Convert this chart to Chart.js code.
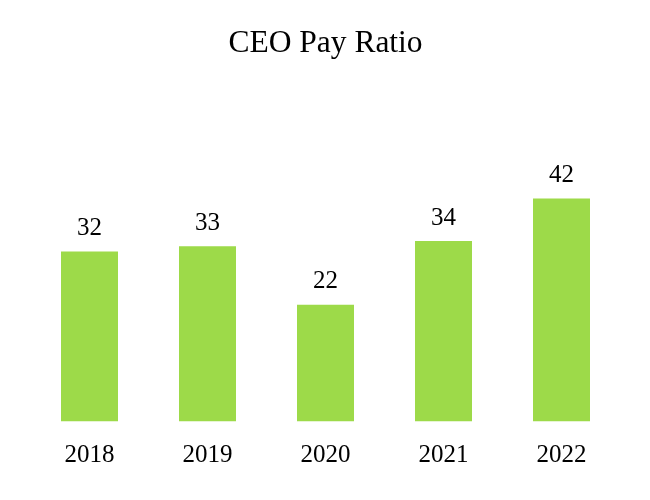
<!DOCTYPE html>
<html>
<head>
<meta charset="utf-8">
<script src="https://cdn.jsdelivr.net/npm/chart.js@4"></script>
<style>
html,body{margin:0;padding:0;background:#fff;}
#wrap{width:650px;height:500px;}
</style>
</head>
<body>
<div id="wrap"><canvas id="c"></canvas></div>
<script>
const categories = ['2018', '2019', '2020', '2021', '2022'];
const payRatio = [32, 33, 22, 34, 42];
const chartTitle = 'CEO Pay Ratio';

const valueLabels = {
  id: 'valueLabels',
  afterDatasetsDraw(chart) {
    const ctx = chart.ctx;
    const meta = chart.getDatasetMeta(0);
    ctx.save();
    ctx.font = '25px "Liberation Serif", "Times New Roman", serif';
    ctx.fillStyle = '#000';
    ctx.textAlign = 'center';
    ctx.textBaseline = 'middle';
    meta.data.forEach((bar, i) => {
      ctx.fillText(String(payRatio[i]), bar.x, bar.y - 23);
    });
    ctx.restore();
  }
};

new Chart(document.getElementById('c'), {
  type: 'bar',
  data: {
    labels: categories,
    datasets: [{
      data: payRatio,
      backgroundColor: '#9DDA49',
      borderWidth: 0,
      barPercentage: 0.483,
      categoryPercentage: 1.0
    }]
  },
  options: {
    responsive: true,
    maintainAspectRatio: false,
    animation: false,
    layout: { padding: { left: 30.5, right: 29.5, top: 0, bottom: 11.5 } },
    plugins: {
      legend: { display: false },
      tooltip: { enabled: false },
      title: {
        display: true,
        text: chartTitle,
        color: '#000',
        font: { family: '"Liberation Serif", "Times New Roman", serif', size: 31.5, weight: 'normal', lineHeight: 1.2 },
        padding: { top: 25, bottom: 93.2 }
      }
    },
    scales: {
      x: {
        grid: { display: false, drawTicks: false },
        border: { display: false },
        ticks: {
          color: '#000',
          padding: 18.5,
          font: { family: '"Liberation Serif", "Times New Roman", serif', size: 25, lineHeight: 1.2 }
        }
      },
      y: {
        display: false,
        min: 0,
        max: 50
      }
    }
  },
  plugins: [valueLabels]
});
</script>
</body>
</html>
